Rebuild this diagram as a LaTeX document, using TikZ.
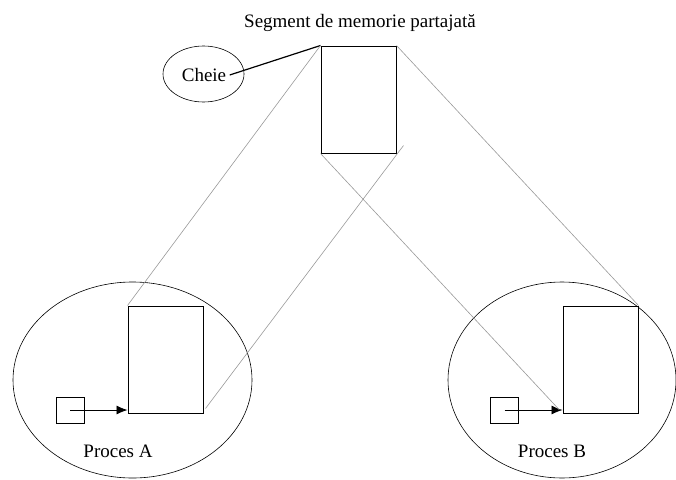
\documentclass[tikz,border=0pt]{standalone}
\usepackage{fontspec}
\setmainfont{Liberation Serif}
\usetikzlibrary{positioning, arrows, arrows.meta, shapes, calc}

\begin{document}
\begin{tikzpicture}[
    x=1pt, y=-1pt,
    >={Latex[length=11pt,width=9pt]},
    segment/.style={draw, line width=1pt, minimum width=75pt, minimum height=107pt, inner sep=0pt},
    pointer/.style={draw, line width=0.8pt, minimum width=28pt, minimum height=26pt, inner sep=0pt},
    proc/.style={ellipse, draw, line width=0.6pt, inner sep=0pt},
    mapline/.style={draw=black!40, line width=0.6pt},
    every node/.style={font=\fontsize{19}{22}\selectfont}
  ]
  \useasboundingbox (0,0) rectangle (676,479);

  % --- SHARED SEGMENT ---
  \node[anchor=base] (title) at (360,27) {Segment de memorie partajată};
  \node[segment] (shm) at (358.5,99.5) {};
  \node[proc, minimum width=81pt, minimum height=56pt] (key) at (203.5,74) {};
  \node[anchor=base] (keytext) at (204,81) {Cheie};
  \draw[line width=1.2pt] ($(keytext.base east)+(0,-6)$) -- (shm.north west);

  % --- PROCESS A ---
  \node[proc, minimum width=239pt, minimum height=196pt] (procA) at (132.5,380) {};
  \node[segment] (segA) at (165.5,359.5) {};
  \node[pointer] (ptrA) at (70,410) {};
  \node[anchor=base] (labelA) at (118,457) {Proces A};
  \draw[->, line width=0.8pt] (ptrA.center) -- (segA.west |- ptrA.center);

  % --- PROCESS B ---
  \node[proc, minimum width=228pt, minimum height=196pt] (procB) at (562,380) {};
  \node[segment] (segB) at (600.5,359.5) {};
  \node[pointer] (ptrB) at (504.5,410) {};
  \node[anchor=base] (labelB) at (552,457) {Proces B};
  \draw[->, line width=0.8pt] (ptrB.center) -- (segB.west |- ptrB.center);

  % --- MAPPING LINES ---
  \draw[mapline] (shm.north west) -- (segA.north west);
  \draw[mapline] ($(shm.south east)+(7,-8)$) -- ($(segA.south east)+(2,-5)$);
  \draw[mapline] (shm.south west) -- ($(segB.west |- ptrB.center)+(-3,0)$);
  \draw[mapline] (shm.north east) -- (segB.north east);

\end{tikzpicture}
\end{document}
